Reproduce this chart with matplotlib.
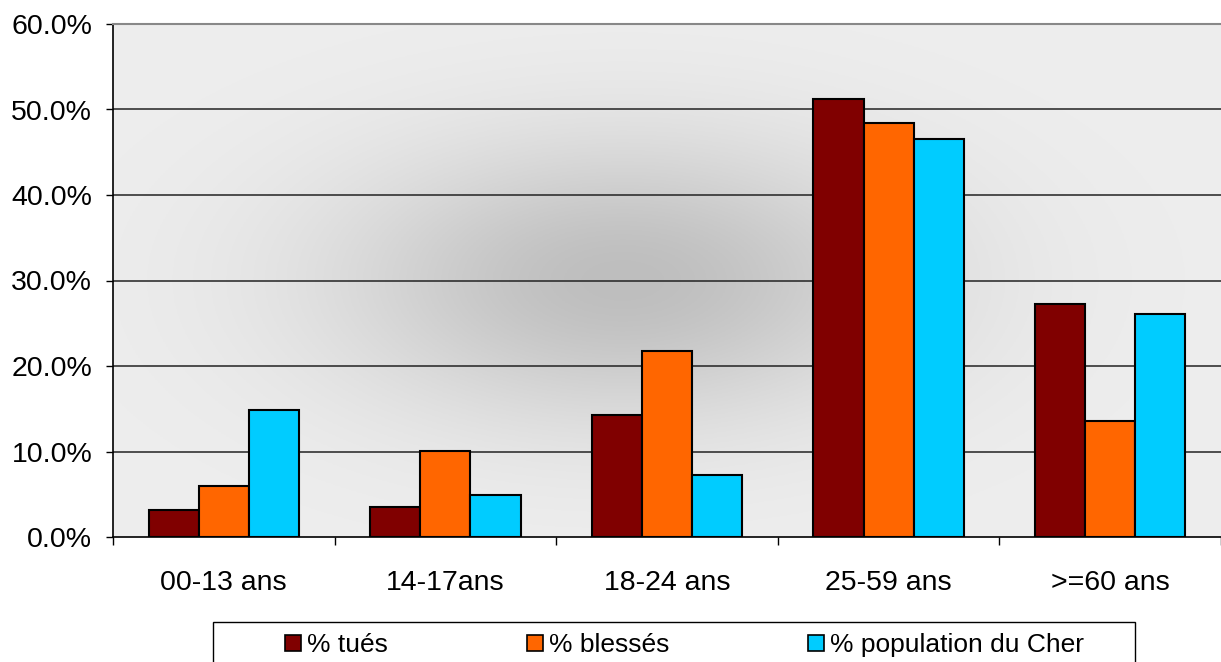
import numpy as np
import matplotlib
matplotlib.use("Agg")
import matplotlib.pyplot as plt
from matplotlib.patches import Patch, Rectangle

plt.rcParams['font.family'] = ['Liberation Sans', 'DejaVu Sans']

# tranches d'âge et pourcentages
categories = ['00-13 ans', '14-17ans', '18-24 ans', '25-59 ans', '>=60 ans']
tues = [3.2, 3.5, 14.3, 51.2, 27.2]
blesses = [6.0, 10.1, 21.8, 48.4, 13.6]
population = [14.9, 4.9, 7.2, 46.5, 26.1]

series = [('% tués', tues, '#800000'),
          ('% blessés', blesses, '#FF6600'),
          ('% population du Cher', population, '#00CCFF')]

FS = 20.5
W, H = 1221, 662
fig = plt.figure(figsize=(W / 100, H / 100), dpi=100)
ax = fig.add_axes([113 / W, 125 / H, 1108 / W, 513 / H])

# fond en dégradé (gris foncé au centre, clair sur les bords)
nx, ny = 400, 200
gx, gy = np.meshgrid(np.linspace(0, 1, nx), np.linspace(0, 1, ny))
r = np.sqrt(((gx - 0.46) / 0.55) ** 2 + ((gy - 0.50) / 0.58) ** 2)
dark = np.exp(-(r / 0.47) ** 2)
val = (238 - (238 - 190) * dark) / 255
bg = np.dstack([val, val, val])
ax.imshow(bg, extent=[0, 5, 0, 60], origin='lower', aspect='auto', zorder=0)

x = np.arange(len(categories)) + 0.5
w = 0.226
for i, (label, vals, color) in enumerate(series):
    ax.bar(x + (i - 1) * w, vals, width=w, color=color, edgecolor='black',
           linewidth=1.5, zorder=3)

ax.set_xlim(0, 5)
ax.set_ylim(0, 60)
ax.set_yticks(np.arange(0, 61, 10))
ax.set_yticklabels([f'{v:.1f}%' for v in np.arange(0, 61, 10)], fontsize=FS)
ax.set_xticks(x)
ax.set_xticklabels(categories, fontsize=FS)
ax.set_xticks(np.arange(0, 6), minor=True)
ax.tick_params(axis='x', which='major', length=0, pad=23.5)
ax.tick_params(axis='x', which='minor', length=6, width=1, direction='out')
ax.tick_params(axis='y', length=5, width=1, pad=10)

for v in range(10, 60, 10):
    ax.axhline(v, color='#222222', lw=1.1, zorder=1)

ax.spines['left'].set_linewidth(1.2)
ax.spines['bottom'].set_linewidth(1.2)
ax.spines['top'].set_color('#888888')
ax.spines['top'].set_linewidth(1.5)
ax.spines['right'].set_visible(False)

# légende : un cadre et trois entrées
fig.add_artist(Rectangle((213 / W, -0.05), (1135 - 213) / W, (662 - 622) / H + 0.05,
                         transform=fig.transFigure, fill=False, ec='black', lw=1))
LFS = 19
handle_x = [285, 527, 808]
for hx, (label, vals, color) in zip(handle_x, series):
    fig.legend([Patch(facecolor=color, edgecolor='black', linewidth=1.2)], [label],
               loc='center left', bbox_to_anchor=(hx / W, 1 - 645 / H),
               frameon=False, fontsize=LFS, borderpad=0, borderaxespad=0,
               handlelength=0.6, handleheight=0.57, handletextpad=0.23)

fig.savefig('out.png', dpi=100)
